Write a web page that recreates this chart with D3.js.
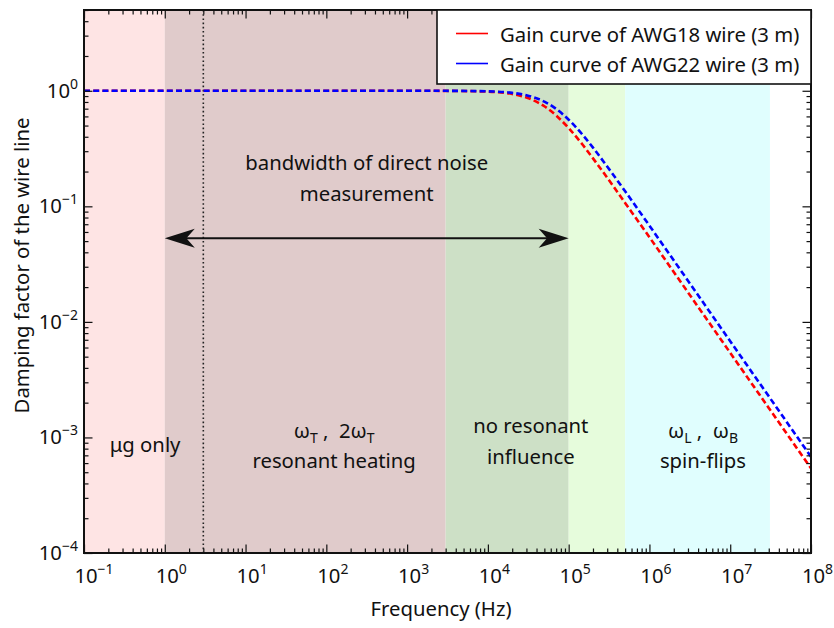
<!DOCTYPE html>
<html>
<head>
<meta charset="utf-8">
<script src="https://cdn.jsdelivr.net/npm/d3@7"></script>
<style>
body { margin: 0; background: #fff; }
text { font-family: "Noto Sans", sans-serif; fill: #111; }
</style>
</head>
<body>
<div class="chart"></div>
<script>
const width = 834
const height = 628
const margin = {top: 10, right: 23, bottom: 75, left: 84}
const w = width - margin.left - margin.right
const h = height - margin.top - margin.bottom
const fontSize = 20.3

// gain curves
const freq = [0.1, 1, 10, 100, 1e3, 3e3, 1e4, 2e4, 3e4, 5e4, 7e4, 1e5, 1.5e5, 2e5, 3e5, 5e5, 1e6, 3e6, 1e7, 3e7, 1e8]
const gainAWG18 = [1, 1, 1, 1, 1, 0.998, 0.983, 0.938, 0.874, 0.734, 0.611, 0.475, 0.339, 0.26, 0.177, 0.107, 0.054, 0.018, 0.0054, 0.0018, 0.00054]
const gainAWG22 = [1, 1, 1, 1, 1, 0.999, 0.989, 0.959, 0.915, 0.806, 0.697, 0.562, 0.413, 0.322, 0.221, 0.135, 0.068, 0.0227, 0.0068, 0.00227, 0.00068]
const seriesNames = ['Gain curve of AWG18 wire (3 m)', 'Gain curve of AWG22 wire (3 m)']
const seriesColors = ['#ff0000', '#0000ff']

// shaded frequency bands
const bandStart = [0.1, 1, 3e3, 1e5, 5e5]
const bandEnd = [1, 3e3, 1e5, 5e5, 3.1e7]
const bandColors = ['#fee4e4', '#e0cbcb', '#cde0c6', '#e6fcdc', '#e0fefe']

// annotations (data coords of first baseline)
const noteLines = [
    ['bandwidth of direct noise', 'measurement'],
    ['μg only'],
    ['ω_T ,\u00a0 2ω_T', 'resonant heating'],
    ['no resonant', 'influence'],
    ['ω_L ,\u00a0 ω_B', 'spin-flips']
]
const noteX = [316, 0.57, 125, 3.4e4, 4.6e6]
const noteY = [0.205, 7.5e-4, 9.9e-4, 1.09e-3, 9.9e-4]

const dottedAt = 3
const arrowFrom = 1, arrowTo = 1e5, arrowLevel = 0.053

const xDecades = d3.range(-1, 9)
const yDecades = d3.range(-4, 1)

const x = d3.scaleLog().domain([0.1, 1e8]).range([0, w])
const y = d3.scaleLog().domain([1e-4, 5]).range([h, 0])

const svg = d3.select('.chart')
    .append('svg')
        .attr('width', width)
        .attr('height', height)
const g = svg.append('g')
        .attr('transform', `translate(${margin.left},${margin.top})`)

g.append('clipPath').attr('id', 'clip')
    .append('rect').attr('width', w).attr('height', h)

const plot = g.append('g').attr('clip-path', 'url(#clip)')

plot.selectAll('.band')
    .data(bandStart)
    .join('rect')
        .attr('x', (d, i) => x(d))
        .attr('y', 0)
        .attr('width', (d, i) => x(bandEnd[i]) - x(d))
        .attr('height', h)
        .attr('fill', (d, i) => bandColors[i])

plot.append('line')
    .attr('x1', x(dottedAt)).attr('x2', x(dottedAt))
    .attr('y1', 0).attr('y2', h)
    .attr('stroke', '#222')
    .attr('stroke-width', 1.6)
    .attr('stroke-dasharray', '1.6,2.6')

// double arrow
const ay = y(arrowLevel)
const ax1 = x(arrowFrom), ax2 = x(arrowTo)
const headLen = 30, headW = 9.5
plot.append('line')
    .attr('x1', ax1 + 10).attr('x2', ax2 - 10)
    .attr('y1', ay).attr('y2', ay)
    .attr('stroke', '#111').attr('stroke-width', 2)
const head = (tip, dir) => `M${tip},${ay} L${tip + dir * headLen},${ay - headW} L${tip + dir * headLen * 0.72},${ay} L${tip + dir * headLen},${ay + headW} Z`
plot.append('path').attr('d', head(ax1, 1)).attr('fill', '#111')
plot.append('path').attr('d', head(ax2, -1)).attr('fill', '#111')

// curves
const line = d3.line()
    .x(d => x(d[0]))
    .y(d => y(d[1]))
    .curve(d3.curveMonotoneX)
;[gainAWG18, gainAWG22].forEach((gain, i) => {
    plot.append('path')
        .attr('d', line(freq.map((f, j) => [f, gain[j]])))
        .attr('fill', 'none')
        .attr('stroke', seriesColors[i])
        .attr('stroke-width', 2.6)
        .attr('stroke-dasharray', '6,3.2')
})

// annotation texts, "_X" is a subscript
function richText(sel, str) {
    const parts = str.split(/_(\w)/)
    parts.forEach((p, k) => {
        if (p === '') return
        const sub = k % 2 === 1
        sel.append('tspan')
            .attr('font-size', sub ? 14 : null)
            .attr('dy', sub ? 5 : (k > 0 ? -5 : 0))
            .text(p)
    })
}
noteLines.forEach((lines, i) => {
    lines.forEach((s, j) => {
        const t = g.append('text')
            .attr('x', x(noteX[i]))
            .attr('y', y(noteY[i]) + j * 30.5)
            .attr('text-anchor', 'middle')
            .attr('font-size', fontSize)
        richText(t, s)
    })
})

// axes: inward ticks on all sides
const minor = (lo, hi) => d3.range(lo, hi).flatMap(k => d3.range(2, 10).map(m => m * Math.pow(10, k)))
const xMajor = xDecades.map(k => Math.pow(10, k))
const yMajor = yDecades.map(k => Math.pow(10, k))
const xMinor = minor(-1, 8)
const yMinor = minor(-4, 1).filter(v => v <= 5)

function ticks(axisFn, scale, values, size, tr) {
    const a = g.append('g')
        .attr('transform', tr)
        .call(axisFn(scale).tickValues(values).tickSize(-size).tickFormat(''))
    a.select('.domain').remove()
    a.selectAll('line').attr('stroke', '#111').attr('stroke-width', 1.2)
}
ticks(d3.axisBottom, x, xMajor, 8.5, `translate(0,${h})`)
ticks(d3.axisBottom, x, xMinor, 4.5, `translate(0,${h})`)
ticks(d3.axisTop, x, xMajor, 8.5, 'translate(0,0)')
ticks(d3.axisTop, x, xMinor, 4.5, 'translate(0,0)')
ticks(d3.axisLeft, y, yMajor, 8.5, 'translate(0,0)')
ticks(d3.axisLeft, y, yMinor, 4.5, 'translate(0,0)')
ticks(d3.axisRight, y, yMajor, 8.5, `translate(${w},0)`)
ticks(d3.axisRight, y, yMinor, 4.5, `translate(${w},0)`)

g.append('rect')
    .attr('width', w).attr('height', h)
    .attr('fill', 'none')
    .attr('stroke', '#111')
    .attr('stroke-width', 2)

// tick labels 10^k
function powLabel(sel, k) {
    sel.append('tspan').text('10')
    sel.append('tspan').attr('font-size', 14).attr('dy', -9).text(k < 0 ? '\u2212' + (-k) : k)
}
xDecades.forEach(k => {
    const t = g.append('text')
        .attr('x', x(Math.pow(10, k)) + (k < 0 ? 10 : 6.5))
        .attr('y', h + 30)
        .attr('text-anchor', 'middle')
        .attr('font-size', fontSize)
    powLabel(t, k)
})
yDecades.forEach(k => {
    const t = g.append('text')
        .attr('x', -6)
        .attr('y', y(Math.pow(10, k)) + 7)
        .attr('text-anchor', 'end')
        .attr('font-size', fontSize)
    powLabel(t, k)
})

g.append('text')
    .attr('x', w / 2 - 6.5)
    .attr('y', h + 63)
    .attr('text-anchor', 'middle')
    .attr('font-size', fontSize)
    .text('Frequency (Hz)')

g.append('text')
    .attr('transform', `translate(${29 - margin.left},${h / 2 - 16}) rotate(-90)`)
    .attr('text-anchor', 'middle')
    .attr('font-size', fontSize)
    .text('Damping factor of the wire line')

// legend
const lg = g.append('g').attr('transform', `translate(${x(0.1) + 353},0)`)
lg.append('rect')
    .attr('width', w - 353).attr('height', 74)
    .attr('fill', '#fff')
    .attr('stroke', '#111')
    .attr('stroke-width', 1.6)
seriesNames.forEach((name, i) => {
    lg.append('line')
        .attr('x1', 19).attr('x2', 51)
        .attr('y1', 23.5 + i * 30).attr('y2', 23.5 + i * 30)
        .attr('stroke', seriesColors[i])
        .attr('stroke-width', 1.6)
    lg.append('text')
        .attr('x', 63)
        .attr('y', 31.5 + i * 30)
        .attr('font-size', fontSize)
        .text(name)
})
</script>
</body>
</html>
